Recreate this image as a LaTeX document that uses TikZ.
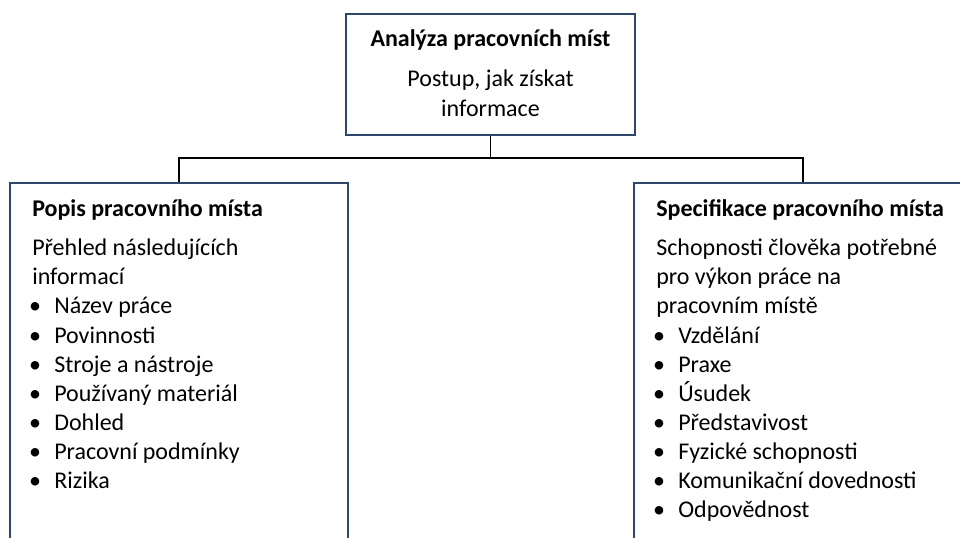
\documentclass[tikz,border=0pt]{standalone}
\usepackage{fontspec}
\setmainfont{Carlito}
\definecolor{boxline}{RGB}{46,70,106}
\begin{document}
\begin{tikzpicture}[x=0.75pt,y=-0.75pt,
  box/.style={draw=boxline,line width=1.5pt,fill=white,inner sep=0pt,rectangle},
  txt/.style={inner sep=0pt,anchor=base west,font=\fontsize{18}{21.75}\selectfont},
  ctxt/.style={inner sep=0pt,anchor=base,font=\fontsize{18}{21.75}\selectfont},
  hdr/.style={txt,font=\fontsize{18}{21.75}\selectfont\bfseries},
  chdr/.style={ctxt,font=\fontsize{18}{21.75}\selectfont\bfseries},
  bul/.style={inner sep=0pt,anchor=base,font=\fontsize{18}{21.75}\selectfont},
  conn/.style={draw=black,line width=1.1pt}]
\useasboundingbox (0,0) rectangle (960,538);
\clip (0,0) rectangle (960,538);
\fill[white] (0,0) rectangle (960,538);

% boxes (sizes in pt: 1px = 0.75pt)
\node[box,minimum width=216.75pt,minimum height=90.75pt] (top) at (490.5,74.5) {};
\node[box,minimum width=253.5pt,minimum height=315pt,anchor=north] (left) at (179,182) {};
\node[box,minimum width=253.5pt,minimum height=315pt,anchor=north] (right) at (803,182) {};

% connectors
\coordinate (bus) at (0,158);
\draw[conn] (top.south) -- (top.south |- bus);
\draw[conn] (left.north) -- (left.north |- bus) -- (right.north |- bus) -- (right.north);

% top box text
\node[chdr] (t1) at (490.5,47) {Analýza pracovních míst};
\node[ctxt] (t2) at (490.5,87) {Postup, jak získat};
\node[ctxt] (t3) at (490.5,117) {informace};

% left box text
\node[hdr] (l0) at (32,217) {Popis pracovního místa};
\node[txt] (l1) at (32,256) {Přehled následujících};
\node[txt] (l2) at (32,285) {informací};
\foreach \i/\y/\t in {3/314/Název práce,4/343/Povinnosti,5/372/Stroje a nástroje,6/401/Používaný materiál,7/430/Dohled,8/459/Pracovní podmínky,9/488/Rizika}{
  \node[bul] (lb\i) at (35,\y) {•};
  \node[txt] (l\i) at (54,\y) {\t};
}

% right box text
\node[hdr] (r0) at (656,217) {Specifikace pracovního místa};
\node[txt] (r1) at (656,256) {Schopnosti člověka potřebné};
\node[txt] (r2) at (656,285) {pro výkon práce na};
\node[txt] (r3) at (656,314) {pracovním místě};
\foreach \i/\y/\t in {4/343/Vzdělání,5/372/Praxe,6/401/Úsudek,7/430/Představivost,8/459/Fyzické schopnosti,9/488/Komunikační dovednosti,10/517/Odpovědnost}{
  \node[bul] (rb\i) at (659,\y) {•};
  \node[txt] (r\i) at (678,\y) {\t};
}
\end{tikzpicture}
\end{document}
